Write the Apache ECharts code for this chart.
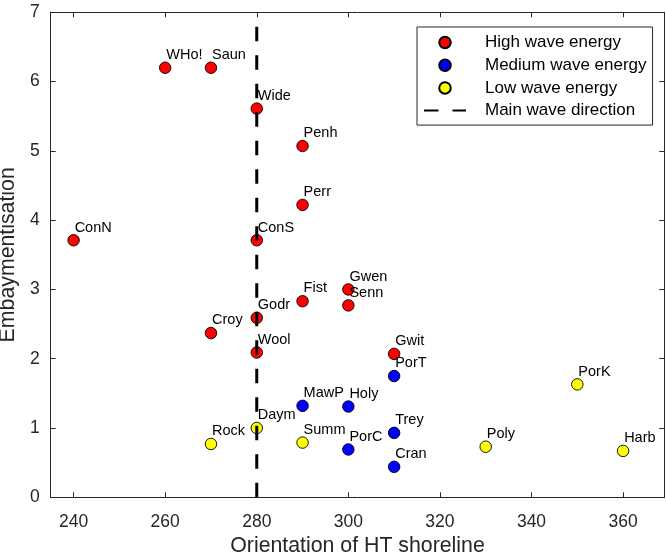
<!DOCTYPE html>
<html>
<head>
<meta charset="utf-8">
<script src="https://cdn.jsdelivr.net/npm/echarts@6/dist/echarts.min.js"></script>
<style>
html,body{margin:0;padding:0;background:#fff;}
#chart{width:666px;height:554px;}
</style>
</head>
<body>
<div id="chart"></div>
<script>
// ---- data ----
var highNames = ['WHo!', 'Saun', 'Wide', 'Penh', 'Perr', 'ConN', 'ConS', 'Gwen', 'Senn', 'Fist', 'Godr', 'Croy', 'Wool', 'Gwit'];
var highX     = [260, 270, 280, 290, 290, 240, 280, 300, 300, 290, 280, 270, 280, 310];
var highY     = [6.2, 6.2, 5.61, 5.07, 4.22, 3.71, 3.71, 3.0, 2.77, 2.83, 2.59, 2.37, 2.09, 2.07];

var medNames = ['PorT', 'MawP', 'Holy', 'Trey', 'PorC', 'Cran'];
var medX     = [310, 290, 300, 310, 300, 310];
var medY     = [1.75, 1.32, 1.31, 0.93, 0.69, 0.44];

var lowNames = ['Daym', 'Rock', 'Summ', 'Poly', 'PorK', 'Harb'];
var lowX     = [280, 270, 290, 330, 350, 360];
var lowY     = [1.0, 0.77, 0.79, 0.73, 1.63, 0.67];

var waveDirX = [280, 280];
var waveDirY = [0, 7];

var xTicks = [240, 260, 280, 300, 320, 340, 360];
var yTicks = [0, 1, 2, 3, 4, 5, 6, 7];

var seriesNames = ['High wave energy', 'Medium wave energy', 'Low wave energy', 'Main wave direction'];

// ---- build ----
function pts(xs, ys, names) {
  return xs.map(function (x, i) { return { name: names[i], value: [x, ys[i]] }; });
}
var FONT = "'Liberation Sans', Arial, Helvetica, sans-serif";
var AX = '#262626';
var SYM = 11.5;

function scatterSeries(name, color, data) {
  return {
    name: name,
    type: 'scatter',
    data: data,
    symbol: 'circle',
    symbolSize: SYM,
    z: 2,
    itemStyle: { color: color, borderColor: '#000', borderWidth: 0.9, opacity: 1 },
    label: {
      show: true,
      formatter: function (p) { return p.name; },
      position: [SYM / 2 + 1.5, SYM / 2 - 12.3],
      align: 'left',
      verticalAlign: 'middle',
      color: '#000',
      fontFamily: FONT,
      fontSize: 14.5
    },
    emphasis: { disabled: true }
  };
}

var tickStyle = { show: true, inside: true, length: 5, lineStyle: { color: AX, width: 1 } };

var option = {
  animation: false,
  backgroundColor: '#fff',
  grid: { left: 50.7, right: 1.7, top: 12.3, bottom: 56.7, containLabel: false, outerBoundsMode: 'none' },
  xAxis: [{
    type: 'value',
    min: 235, max: 369,
    position: 'bottom',
    name: 'Orientation of HT shoreline',
    nameLocation: 'middle',
    nameGap: 34,
    nameTextStyle: { color: AX, fontFamily: FONT, fontSize: 21.3 },
    axisLine: { show: true, onZero: false, lineStyle: { color: AX, width: 1 } },
    axisTick: Object.assign({ customValues: xTicks }, tickStyle),
    axisLabel: { customValues: xTicks, color: AX, fontFamily: FONT, fontSize: 17.5, margin: 15.5 },
    splitLine: { show: false }
  }, {
    type: 'value',
    min: 235, max: 369,
    position: 'top',
    axisLine: { show: true, onZero: false, lineStyle: { color: AX, width: 1 } },
    axisTick: Object.assign({ customValues: xTicks }, tickStyle),
    axisLabel: { show: false },
    splitLine: { show: false }
  }],
  yAxis: [{
    type: 'value',
    min: 0, max: 7, interval: 1,
    position: 'left',
    name: 'Embaymentisation',
    nameLocation: 'middle',
    nameGap: 20,
    nameTextStyle: { color: AX, fontFamily: FONT, fontSize: 21.3 },
    axisLine: { show: true, onZero: false, lineStyle: { color: AX, width: 1 } },
    axisTick: Object.assign({ customValues: yTicks }, tickStyle),
    axisLabel: { customValues: yTicks, color: AX, fontFamily: FONT, fontSize: 17.5, margin: 11 },
    splitLine: { show: false }
  }, {
    type: 'value',
    min: 0, max: 7, interval: 1,
    position: 'right',
    axisLine: { show: true, onZero: false, lineStyle: { color: AX, width: 1 } },
    axisTick: Object.assign({ customValues: yTicks }, tickStyle),
    axisLabel: { show: false },
    splitLine: { show: false }
  }],
  legend: {
    data: seriesNames,
    orient: 'vertical',
    left: 417,
    top: 27,
    padding: [7, 6, 6, 6],
    itemWidth: 42,
    itemHeight: 11.5,
    itemGap: 5.7,
    backgroundColor: '#fff',
    borderColor: AX,
    borderWidth: 1,
    borderRadius: 0,
    selectedMode: false,
    textStyle: { color: '#000', fontFamily: FONT, fontSize: 17, lineHeight: 17, padding: [0, 0, 0, 14] }
  },
  series: [
    scatterSeries(seriesNames[0], '#ff0000', pts(highX, highY, highNames)),
    scatterSeries(seriesNames[1], '#0000ff', pts(medX, medY, medNames)),
    scatterSeries(seriesNames[2], '#ffff00', pts(lowX, lowY, lowNames)),
    {
      name: seriesNames[3],
      type: 'line',
      data: waveDirX.map(function (x, i) { return [x, waveDirY[i]]; }),
      symbol: 'none',
      z: 5,
      lineStyle: { color: '#000', width: 3, type: [14.5, 14], cap: 'butt' },
      itemStyle: { color: 'rgba(0,0,0,0)', borderWidth: 0, opacity: 0 },
      emphasis: { disabled: true },
      silent: true
    }
  ]
};

var chart = echarts.init(document.getElementById('chart'), null, { renderer: 'canvas' });
chart.setOption(option);
</script>
</body>
</html>
